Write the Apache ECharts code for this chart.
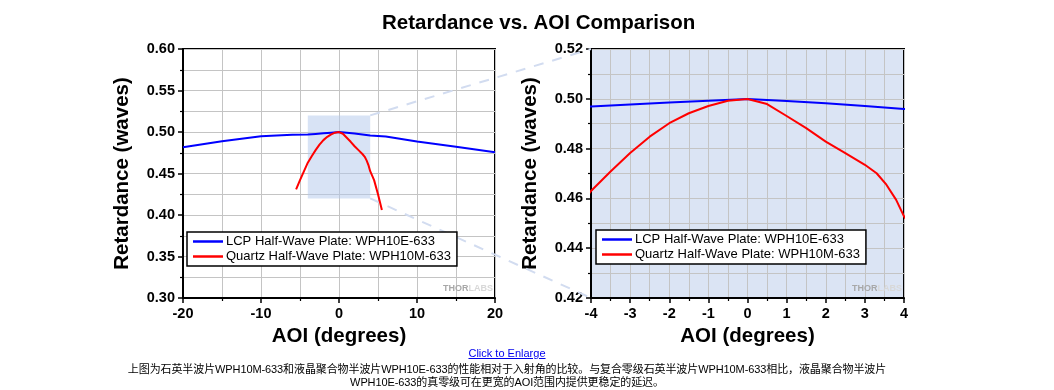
<!DOCTYPE html>
<html>
<head>
<meta charset="utf-8">
<script src="https://cdn.jsdelivr.net/npm/echarts@6/dist/echarts.min.js"></script>
<style>
  html, body { margin: 0; padding: 0; background: #fff; }
  #chart { position: absolute; left: 0; top: 0; width: 1054px; height: 390px; }
  .txt { position: absolute; left: 0; width: 1014px; text-align: center;
         font-family: "Liberation Sans", "Noto Sans CJK SC", sans-serif; font-size: 11px;
         line-height: 13px; color: #000; z-index: 5; }
  #link { top: 347px; }
  #link a { color: #0000ee; text-decoration: underline; }
  #desc { top: 363px; letter-spacing: -0.1px; }
</style>
</head>
<body>
<div id="chart"></div>
<div id="link" class="txt"><a href="#">Click to Enlarge</a></div>
<div id="desc" class="txt">上图为石英半波片WPH10M-633和液晶聚合物半波片WPH10E-633的性能相对于入射角的比较。与复合零级石英半波片WPH10M-633相比，液晶聚合物半波片<br>WPH10E-633的真零级可在更宽的AOI范围内提供更稳定的延迟。</div>
<script>
// ---- data ----
const titleText = 'Retardance vs. AOI Comparison';
const xName = 'AOI (degrees)';
const yName = 'Retardance (waves)';
const lcpName = 'LCP Half-Wave Plate: WPH10E-633';
const quartzName = 'Quartz Half-Wave Plate: WPH10M-633';

const lcpAOI = [-20, -15, -10, -6, -4, -3, -2, -1, 0, 1, 2, 3, 4, 6, 10, 15, 20];
const lcpRet = [0.4817, 0.4888, 0.4950, 0.4966, 0.4969, 0.4977, 0.4985, 0.4992, 0.4999, 0.4991, 0.4982, 0.4971, 0.4959, 0.4945, 0.4885, 0.4822, 0.4757];

const quartzAOI = [-5.5, -5, -4.5, -4, -3.5, -3, -2.5, -2, -1.5, -1, -0.5, 0, 0.5, 1, 1.5, 2, 2.5, 3, 3.3, 3.55, 3.8, 4, 4.5, 5, 5.5];
const quartzRet = [0.431, 0.442, 0.4525, 0.4630, 0.4708, 0.4782, 0.4848, 0.4902, 0.4942, 0.4971, 0.4992, 0.4999, 0.4979, 0.4931, 0.4882, 0.4828, 0.4782, 0.4735, 0.4701, 0.4655, 0.4594, 0.4528, 0.442, 0.425, 0.406];

// full view and zoomed view ranges
const fullX = [-20, 20], fullXStep = 10;
const fullY = [0.30, 0.60], fullYStep = 0.05;
const zoomX = [-4, 4], zoomXStep = 1;
const zoomY = [0.42, 0.52], zoomYStep = 0.02;

// ---- styling ----
const FONT = '"Liberation Sans", Arial, sans-serif';
const zoomBg = '#dbe4f4';
const gridGray = '#c4c4c4';

const lcpData = lcpAOI.map((x, i) => [x, lcpRet[i]]);
const quartzData = quartzAOI.map((x, i) => [x, quartzRet[i]]);

function xAxisCfg(gi, range, step) {
  return {
    type: 'value', gridIndex: gi, min: range[0], max: range[1], interval: step,
    name: xName, nameLocation: 'middle', nameGap: 25,
    nameTextStyle: { fontFamily: FONT, fontWeight: 'bold', fontSize: 20.5, color: '#000' },
    axisLine: { show: true, onZero: false, lineStyle: { color: '#000', width: 2 } },
    axisTick: { show: true, length: 5, lineStyle: { color: '#000', width: 1.5 } },
    minorTick: { show: true, splitNumber: 2, length: 3, lineStyle: { color: '#000', width: 1.2 } },
    splitLine: { show: true, lineStyle: { color: gridGray, width: 1 } },
    minorSplitLine: { show: true, lineStyle: { color: gridGray, width: 1 } },
    axisLabel: { fontFamily: FONT, fontWeight: 'bold', fontSize: 14.5, color: '#000', margin: 8,
                 formatter: v => String(Math.round(v)) }
  };
}
function yAxisCfg(gi, range, step) {
  return {
    type: 'value', gridIndex: gi, min: range[0], max: range[1], interval: step,
    name: yName, nameLocation: 'middle', nameGap: 50, nameRotate: 90,
    nameTextStyle: { fontFamily: FONT, fontWeight: 'bold', fontSize: 20.5, color: '#000' },
    axisLine: { show: true, onZero: false, lineStyle: { color: '#000', width: 2 } },
    axisTick: { show: true, length: 5, lineStyle: { color: '#000', width: 1.5 } },
    minorTick: { show: true, splitNumber: 2, length: 3, lineStyle: { color: '#000', width: 1.2 } },
    splitLine: { show: true, lineStyle: { color: gridGray, width: 1 } },
    minorSplitLine: { show: true, lineStyle: { color: gridGray, width: 1 } },
    axisLabel: { fontFamily: FONT, fontWeight: 'bold', fontSize: 14.5, color: '#000', margin: 8,
                 formatter: v => v.toFixed(2) }
  };
}
function legendCfg(left, top) {
  return {
    orient: 'vertical', left: left, top: top,
    data: [lcpName, quartzName],
    icon: 'rect', itemWidth: 30, itemHeight: 2.5, itemGap: 2,
    padding: [3, 6, 3, 6],
    borderColor: '#000', borderWidth: 1.5, backgroundColor: '#fff',
    textStyle: { fontFamily: FONT, fontSize: 13, color: '#000', padding: [0, 0, 0, -2] },
    selectedMode: false
  };
}
function lineSeries(name, data, color, gi, extra) {
  return Object.assign({
    name: name, type: 'line', xAxisIndex: gi, yAxisIndex: gi, data: data,
    symbol: 'none', color: color, lineStyle: { color: color, width: 2 },
    clip: true, z: 3, animation: false
  }, extra || {});
}

const chart = echarts.init(document.getElementById('chart'), null, { renderer: 'canvas' });
chart.setOption({
  backgroundColor: '#fff',
  animation: false,
  title: {
    text: titleText, left: 382, top: 13, padding: 0,
    textStyle: { fontFamily: FONT, fontWeight: 'bold', fontSize: 20.5, color: '#000' }
  },
  grid: [
    { left: 183, top: 49, width: 312, height: 249, show: true, borderColor: '#000', borderWidth: 2, backgroundColor: 'transparent', containLabel: false },
    { left: 591, top: 49, width: 313, height: 249, show: true, borderColor: '#000', borderWidth: 2, backgroundColor: zoomBg, containLabel: false }
  ],
  xAxis: [xAxisCfg(0, fullX, fullXStep), xAxisCfg(1, zoomX, zoomXStep)],
  yAxis: [yAxisCfg(0, fullY, fullYStep), yAxisCfg(1, zoomY, zoomYStep)],
  legend: [legendCfg(187, 232), legendCfg(596, 230)],
  series: [
    {
      name: 'zoomRegion', type: 'line', xAxisIndex: 0, yAxisIndex: 0, data: [], z: 1,
      markArea: {
        silent: true,
        itemStyle: { color: 'rgba(178,200,236,0.5)' },
        data: [[{ coord: [zoomX[0], zoomY[1]] }, { coord: [zoomX[1], zoomY[0]] }]]
      }
    },
    lineSeries(lcpName, lcpData, '#0000ff', 0),
    lineSeries(quartzName, quartzData, '#ff0000', 0),
    lineSeries(lcpName, lcpData, '#0000ff', 1),
    lineSeries(quartzName, quartzData, '#ff0000', 1)
  ]
});

// connector lines from the zoom rectangle to the zoomed plot, and watermarks
const a1 = chart.convertToPixel({ gridIndex: 0 }, [zoomX[1], zoomY[1]]);
const a2 = chart.convertToPixel({ gridIndex: 0 }, [zoomX[1], zoomY[0]]);
const b1 = chart.convertToPixel({ gridIndex: 1 }, [zoomX[0], zoomY[1]]);
const b2 = chart.convertToPixel({ gridIndex: 1 }, [zoomX[0], zoomY[0]]);
const c0 = chart.convertToPixel({ gridIndex: 0 }, [fullX[1], fullY[0]]);
const c1 = chart.convertToPixel({ gridIndex: 1 }, [zoomX[1], zoomY[0]]);
const dashStyle = { stroke: '#d2dcf0', lineWidth: 2, lineDash: [10, 9] };
function wm(p) {
  return {
    type: 'text', z: 4, x: p[0] - 2, y: p[1] - 9,
    style: {
      text: '{a|THOR}{b|LABS}', align: 'right', verticalAlign: 'middle',
      rich: {
        a: { fontFamily: FONT, fontWeight: 'bold', fontSize: 9, fill: '#a8a8a8' },
        b: { fontFamily: FONT, fontWeight: 'bold', fontSize: 9, fill: '#d8d8d8' }
      }
    }
  };
}
chart.setOption({
  graphic: [
    { type: 'line', z: 1, shape: { x1: a1[0], y1: a1[1], x2: b1[0], y2: b1[1] }, style: dashStyle, silent: true },
    { type: 'line', z: 1, shape: { x1: a2[0], y1: a2[1], x2: b2[0], y2: b2[1] }, style: dashStyle, silent: true },
    wm(c0), wm(c1)
  ]
});
</script>
</body>
</html>
